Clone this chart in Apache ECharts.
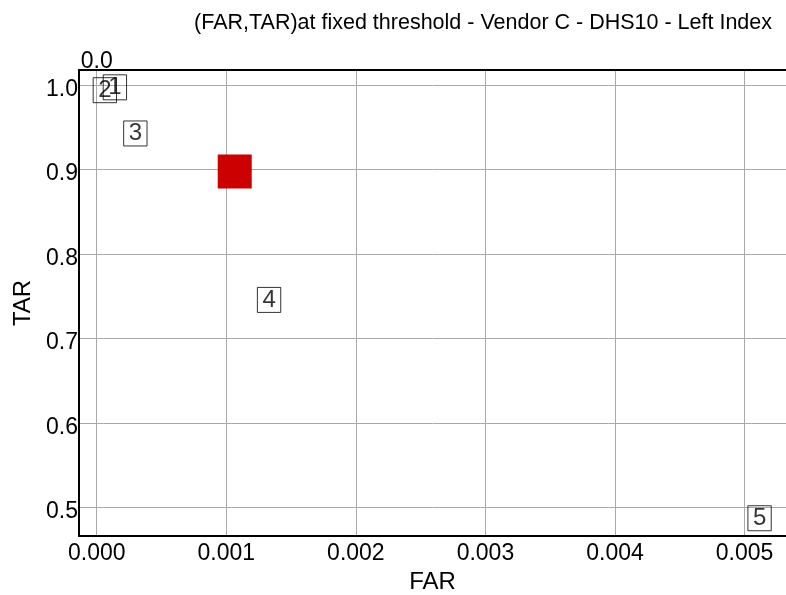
<!DOCTYPE html>
<html>
<head>
<meta charset="utf-8">
<script src="https://cdn.jsdelivr.net/npm/echarts@6/dist/echarts.min.js"></script>
<style>
html,body{margin:0;padding:0;background:#fff;}
#chart{width:786px;height:595px;}
</style>
</head>
<body>
<div id="chart"></div>
<script>
const titleText = '(FAR,TAR)at fixed threshold - Vendor C - DHS10 - Left Index';
const xName = 'FAR';
const yName = 'TAR';
const xMin = -0.000137, xMax = 0.00532;
const yMin = 0.466, yMax = 1.0175;
const pointFAR = [0.001065];
const pointTAR = [0.8975];
const labelNames = ['1', '2', '3', '4', '5'];
const labelFAR = [0.00014, 0.0000625, 0.000298, 0.00133, 0.005116];
const labelTAR = [0.997, 0.9936, 0.9424, 0.7454, 0.487];

const FONT = 'Liberation Sans';
const chart = echarts.init(document.getElementById('chart'), null, {renderer: 'canvas'});
const option = {
  backgroundColor: '#ffffff',
  animation: false,
  title: {
    text: titleText,
    right: 9, top: 7,
    textStyle: {fontFamily: FONT, fontSize: 21.5, fontWeight: 'normal', color: '#000'}
  },
  grid: {left: 79, right: 0, top: 70, bottom: 59, containLabel: false, outerBoundsMode: 'none'},
  xAxis: [{
    type: 'value', position: 'bottom', min: xMin, max: xMax, splitNumber: 5,
    name: xName, nameLocation: 'middle', nameGap: 30,
    nameTextStyle: {fontFamily: FONT, fontSize: 24, color: '#000'},
    axisLine: {show: true, onZero: false, lineStyle: {color: '#000', width: 2}},
    axisTick: {show: false},
    axisLabel: {fontFamily: FONT, fontSize: 23, color: '#000', margin: 6,
      showMinLabel: false, showMaxLabel: false,
      formatter: v => v.toFixed(3)},
    splitLine: {show: true, lineStyle: {color: '#aaaaaa', width: 1}}
  }, {
    type: 'value', position: 'top', min: xMin, max: xMax, splitNumber: 5,
    axisLine: {show: true, onZero: false, lineStyle: {color: '#000', width: 2}},
    axisTick: {show: false},
    axisLabel: {fontFamily: FONT, fontSize: 23, color: '#000', margin: -3,
      showMinLabel: false, showMaxLabel: false,
      formatter: v => (Math.abs(v) < 1e-9 ? '0.0' : '')},
    splitLine: {show: false}
  }],
  yAxis: {
    type: 'value', min: yMin, max: yMax, splitNumber: 5,
    name: yName, nameLocation: 'middle', nameGap: 36,
    nameTextStyle: {fontFamily: FONT, fontSize: 24, color: '#000'},
    axisLine: {show: true, onZero: false, lineStyle: {color: '#000', width: 2}},
    axisTick: {show: false},
    axisLabel: {fontFamily: FONT, fontSize: 23, color: '#000', margin: 1,
      showMinLabel: false, showMaxLabel: false,
      formatter: v => '{a|' + v.toFixed(1) + '}',
      rich: {a: {fontFamily: FONT, fontSize: 23, color: '#000', padding: [9, 0, 0, 0]}}},
    splitLine: {show: true, lineStyle: {color: '#aaaaaa', width: 1}}
  },
  series: [{
    type: 'scatter', symbol: 'rect', symbolSize: 34,
    itemStyle: {color: '#cc0000', opacity: 1},
    data: pointFAR.map((x, i) => [x, pointTAR[i]]),
    z: 3
  }, {
    type: 'scatter', symbolSize: 1,
    itemStyle: {color: 'rgba(0,0,0,0)'},
    label: {
      show: true, position: 'inside', formatter: p => p.name,
      fontFamily: FONT, fontSize: 24, color: '#000', lineHeight: 24,
      borderColor: '#000', borderWidth: 1, padding: [1, 5, 0, 5]
    },
    data: labelNames.map((n, i) => ({name: n, value: [labelFAR[i], labelTAR[i]]})),
    z: 4
  }]
};
chart.setOption(option);
</script>
</body>
</html>
